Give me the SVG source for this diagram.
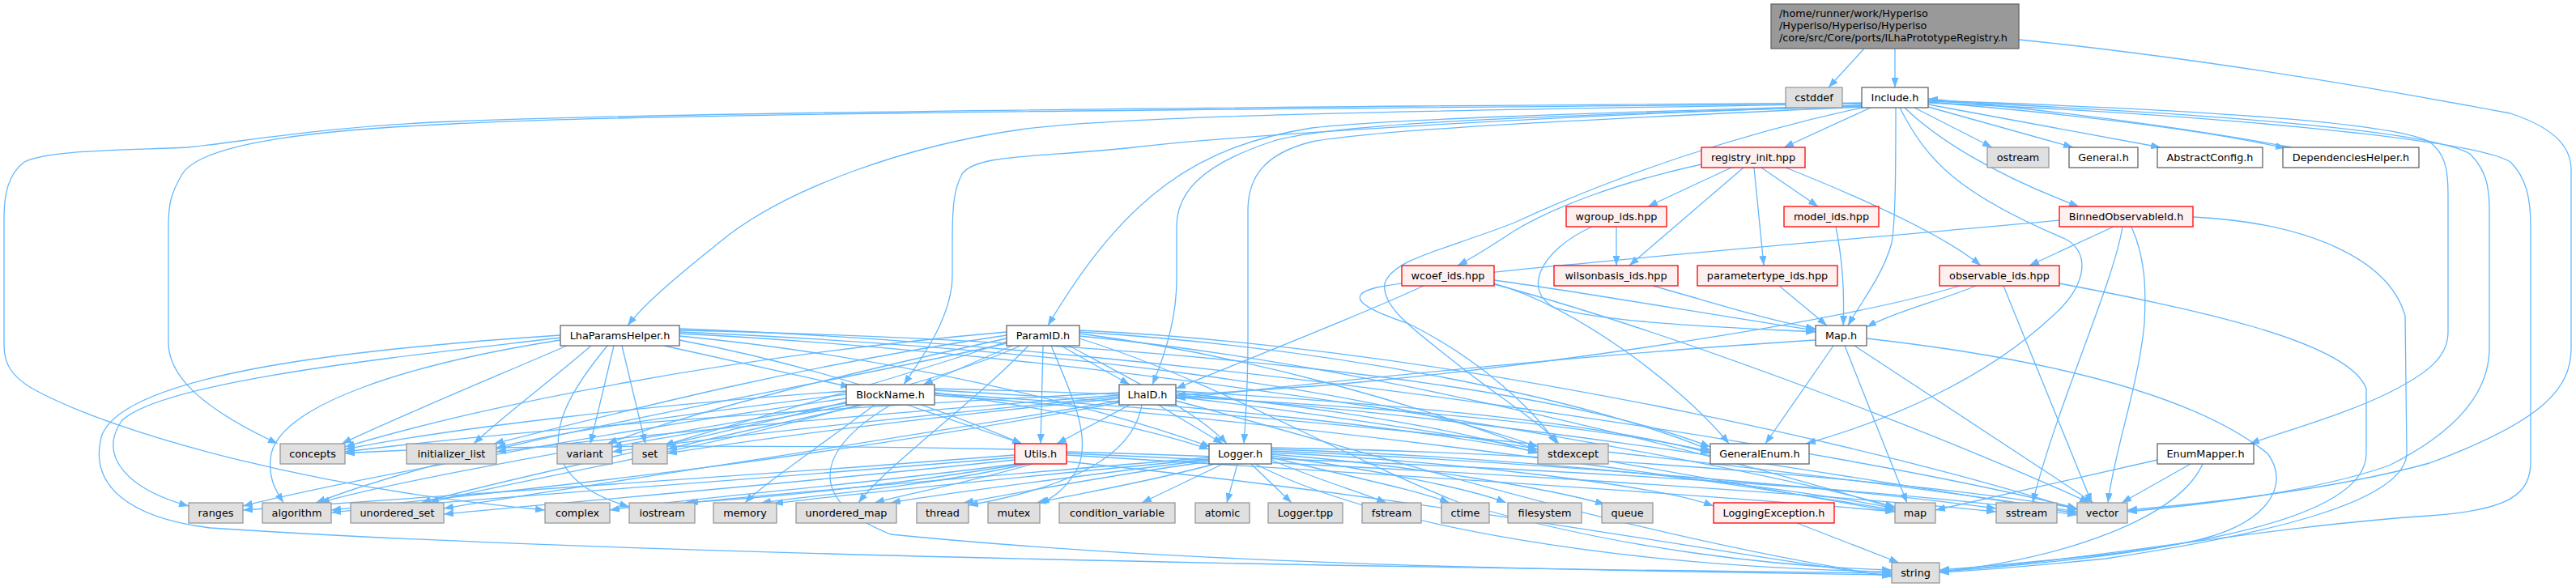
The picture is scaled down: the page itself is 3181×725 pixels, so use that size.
<svg xmlns="http://www.w3.org/2000/svg" width="3181" height="725" viewBox="0 0 3181 725">
<style>
.e{fill:none;stroke:#63b8ff;stroke-width:1.3;marker-end:url(#a)}
.n rect{fill:#fff;stroke:#666;stroke-width:1.3}
.s rect{fill:#e0e0e0;stroke:#999;stroke-width:1.3}
.r rect{fill:#fff0f0;stroke:#f00;stroke-width:1.3}
.root rect{fill:#999;stroke:#666;stroke-width:1.3}
text{font-family:"DejaVu Sans","Liberation Sans",sans-serif;font-size:12.8px;fill:#000;text-anchor:middle}
.root text{text-anchor:start}
</style>
<defs>
<marker id="a" viewBox="0 0 12 9" refX="12" refY="4.5" markerWidth="12" markerHeight="9" orient="auto" markerUnits="userSpaceOnUse"><path d="M0,0 L12,4.5 L0,9 z" fill="#63b8ff"/></marker>
</defs>
<rect width="3181" height="725" fill="#fff"/>
<g id="edges">
<path class="e" d="M2302,60 L2258,108"/>
<path class="e" d="M2340,60 L2340,108"/>
<path class="e" d="M2493,49 C2700,70 2930,108 3100,140 C3160,160 3175,185 3175,210 L3175,430 C3175,480 3140,520 3000,572 C2880,605 2720,622 2627,630"/>
<path class="e" d="M2310,133 L2203,182"/>
<path class="e" d="M2364,133 L2460,182"/>
<path class="e" d="M2381,132 L2560,182"/>
<path class="e" d="M2381,129 L2668,182"/>
<path class="e" d="M2381,126 C2550,140 2720,160 2822,183"/>
<path class="e" d="M2830,182 C2700,158 2550,138 2381,122"/>
<path class="e" d="M2352,133 C2390,170 2460,215 2567,255"/>
<path class="e" d="M2341,133 C2341,200 2341,270 2336,300 C2325,340 2300,370 2282,402"/>
<path class="e" d="M2346,133 C2380,200 2420,240 2550,295 C2580,310 2580,350 2535,390 C2450,470 2330,520 2230,548"/>
<path class="e" d="M2381,124 C2700,135 2950,150 3000,175 C3020,190 3023,210 3023,240 L3023,410 C3023,440 3000,460 2950,485 C2900,510 2830,530 2778,548"/>
<path class="e" d="M2381,125 C2700,138 3000,160 3050,190 C3070,210 3074,230 3074,260 L3074,430 C3074,480 3040,530 2950,575 C2850,610 2700,625 2627,632"/>
<path class="e" d="M2381,127 C2700,140 3050,170 3100,200 C3120,220 3125,245 3125,280 L3125,570 C3125,610 3100,630 3000,637 C2800,650 2600,690 2395,706"/>
<path class="e" d="M2299,128 C1900,135 1400,140 1260,160 C1120,180 980,230 900,290 C850,330 800,370 775,402"/>
<path class="e" d="M2299,130 C1950,140 1700,148 1620,158 C1480,180 1390,240 1294,402"/>
<path class="e" d="M2299,131 C1900,142 1500,170 1400,182 C1280,195 1205,190 1188,215 C1177,235 1176,260 1176,300 L1176,340 C1176,390 1140,440 1116,475"/>
<path class="e" d="M2299,131 C1900,143 1640,152 1570,175 C1480,205 1453,240 1453,280 L1453,345 C1453,395 1438,440 1423,475"/>
<path class="e" d="M2299,132 C1950,148 1700,160 1620,175 C1560,190 1541,220 1541,260 L1541,420 C1541,480 1538,520 1536,548"/>
<path class="e" d="M2299,128 C1500,135 800,140 560,153 C400,160 250,175 225,215 C210,240 208,255 208,280 L208,423 C208,460 240,500 343,548"/>
<path class="e" d="M2299,127 C1500,132 800,140 560,150 C400,156 300,175 232,182 C150,186 60,185 30,200 C10,215 5,240 5,270 L5,427 C5,450 15,465 40,480 C150,540 400,605 673,630"/>
<path class="e" d="M2299,133 C2150,165 2000,215 1870,275 C1780,310 1720,320 1710,350 C1705,380 1750,410 1800,450 C1850,490 1900,520 1925,548"/>
<path class="e" d="M2138,207 L2035,255"/>
<path class="e" d="M2175,207 L2245,255"/>
<path class="e" d="M2101,203 C2000,225 1920,255 1870,285 C1840,305 1815,320 1800,328"/>
<path class="e" d="M2153,207 L2012,328"/>
<path class="e" d="M2166,207 L2178,328"/>
<path class="e" d="M2205,207 C2300,245 2400,290 2446,328"/>
<path class="e" d="M1996,280 L1996,328"/>
<path class="e" d="M1966,280 C1900,310 1880,360 1920,380 C1990,400 2150,405 2242,410"/>
<path class="e" d="M2267,280 C2275,320 2278,360 2276,402"/>
<path class="e" d="M2197,353 L2256,402"/>
<path class="e" d="M2041,353 C2120,375 2180,395 2242,406"/>
<path class="e" d="M1845,346 C1950,360 2150,395 2242,408"/>
<path class="e" d="M1758,353 C1700,380 1600,420 1452,480"/>
<path class="e" d="M1845,350 C1950,380 2080,480 2135,548"/>
<path class="e" d="M1845,351 C2100,420 2450,560 2580,621"/>
<path class="e" d="M2440,353 C2400,370 2340,385 2305,404"/>
<path class="e" d="M2474,353 L2583,621"/>
<path class="e" d="M2543,350 C2700,380 2900,420 2922,480 L2922,560 C2922,620 2800,660 2600,685 C2500,695 2450,700 2395,704"/>
<path class="e" d="M2420,353 C2300,390 2000,440 1700,470 C1600,480 1500,485 1452,488"/>
<path class="e" d="M2610,280 L2506,328"/>
<path class="e" d="M2621,280 C2610,350 2540,500 2510,621"/>
<path class="e" d="M2632,280 C2650,320 2650,360 2648,400 C2640,480 2610,560 2603,621"/>
<path class="e" d="M2708,268 C2850,275 2950,320 2970,390 L2972,560 C2970,620 2800,660 2600,690 C2500,700 2450,704 2395,707"/>
<path class="e" d="M2543,272 C2300,295 1800,335 1700,355 C1660,365 1680,380 1740,400 C1820,440 1890,500 1922,548"/>
<path class="e" d="M2278,427 L2355,621"/>
<path class="e" d="M2290,427 L2585,621"/>
<path class="e" d="M2305,418 C2500,440 2700,480 2800,560 C2830,600 2800,650 2700,670 C2600,690 2450,702 2395,706"/>
<path class="e" d="M2264,427 L2180,548"/>
<path class="e" d="M2242,420 C2000,435 1700,465 1452,492"/>
<path class="e" d="M700,427 C600,470 480,520 422,548"/>
<path class="e" d="M730,427 C680,470 620,515 585,548"/>
<path class="e" d="M758,427 L729,548"/>
<path class="e" d="M768,427 L797,548"/>
<path class="e" d="M820,427 C900,445 980,462 1050,478"/>
<path class="e" d="M692,417 C500,440 200,470 150,520 C120,565 160,605 233,625"/>
<path class="e" d="M692,414 C450,430 150,460 125,540 C110,600 160,640 260,652 C700,682 1600,700 2336,708"/>
<path class="e" d="M750,427 C690,500 640,585 777,626"/>
<path class="e" d="M692,420 C500,450 350,500 335,560 C330,590 340,605 350,621"/>
<path class="e" d="M839,420 C1000,450 1150,500 1262,548"/>
<path class="e" d="M839,415 C1100,440 1350,500 1495,552"/>
<path class="e" d="M839,410 C1300,430 1700,480 1899,552"/>
<path class="e" d="M839,408 C1400,420 1900,470 2112,552"/>
<path class="e" d="M839,412 C1400,440 2100,560 2340,626"/>
<path class="e" d="M839,406 C1500,430 2300,560 2565,628"/>
<path class="e" d="M1250,427 L1140,475"/>
<path class="e" d="M1288,427 L1285,548"/>
<path class="e" d="M1310,427 L1395,475"/>
<path class="e" d="M1320,427 C1400,470 1480,510 1515,548"/>
<path class="e" d="M1243,410 C900,440 600,500 426,552"/>
<path class="e" d="M1243,414 C1000,450 800,500 610,548"/>
<path class="e" d="M1243,418 C1050,460 850,510 750,548"/>
<path class="e" d="M1243,422 C1100,470 920,520 820,550"/>
<path class="e" d="M1243,424 C1000,480 600,540 390,621"/>
<path class="e" d="M1260,427 C1100,500 700,570 520,621"/>
<path class="e" d="M1298,427 C1320,480 1350,540 1330,580 C1315,605 1300,615 1284,622"/>
<path class="e" d="M1333,412 C1550,440 1750,500 1899,556"/>
<path class="e" d="M1333,410 C1650,430 1950,490 2112,556"/>
<path class="e" d="M1333,415 C1700,450 2150,570 2340,628"/>
<path class="e" d="M1333,408 C1800,430 2350,560 2565,630"/>
<path class="e" d="M1333,418 C1500,470 1650,560 1800,620 C2000,680 2200,700 2336,704"/>
<path class="e" d="M1270,427 C1200,500 1100,570 1060,621"/>
<path class="e" d="M1120,500 L1262,548"/>
<path class="e" d="M1154,485 C1300,505 1420,530 1493,555"/>
<path class="e" d="M1045,483 C800,500 550,530 426,555"/>
<path class="e" d="M1045,487 C900,505 700,530 613,553"/>
<path class="e" d="M1050,500 C950,520 820,540 756,552"/>
<path class="e" d="M1065,500 C980,520 880,540 824,555"/>
<path class="e" d="M1050,497 C800,540 500,590 395,621"/>
<path class="e" d="M1060,500 C850,560 600,600 530,621"/>
<path class="e" d="M1045,492 C700,540 400,600 300,625"/>
<path class="e" d="M1154,482 C1500,500 1750,530 1899,558"/>
<path class="e" d="M1154,480 C1600,490 1950,520 2112,558"/>
<path class="e" d="M1154,488 C1600,520 2100,590 2340,630"/>
<path class="e" d="M1100,500 C1000,560 1000,620 1100,660 C1500,700 2000,705 2336,710"/>
<path class="e" d="M1154,486 C1700,520 2300,590 2565,632"/>
<path class="e" d="M1080,500 C1000,560 940,600 920,621"/>
<path class="e" d="M1395,500 L1305,548"/>
<path class="e" d="M1430,500 L1510,548"/>
<path class="e" d="M1382,485 C1000,505 650,530 426,558"/>
<path class="e" d="M1382,488 C1100,510 800,535 613,558"/>
<path class="e" d="M1382,492 C1150,515 950,540 824,560"/>
<path class="e" d="M1382,490 C1150,512 900,538 756,558"/>
<path class="e" d="M1410,500 C1400,560 1330,600 1196,624"/>
<path class="e" d="M1452,485 C1650,505 1800,530 1899,560"/>
<path class="e" d="M1452,483 C1750,500 1990,525 2112,560"/>
<path class="e" d="M1452,490 C1800,530 2150,600 2340,632"/>
<path class="e" d="M1452,495 C1700,560 2000,660 2336,712"/>
<path class="e" d="M1452,488 C1900,520 2350,600 2565,634"/>
<path class="e" d="M1382,495 C1000,560 650,610 548,628"/>
<path class="e" d="M1382,497 C1000,570 600,610 409,630"/>
<path class="e" d="M1253,562 C900,590 500,615 300,630"/>
<path class="e" d="M1253,565 C900,595 550,618 409,633"/>
<path class="e" d="M1253,568 C950,600 700,620 548,635"/>
<path class="e" d="M1255,573 C1050,600 850,615 753,630"/>
<path class="e" d="M1262,573 C1100,600 950,615 845,621"/>
<path class="e" d="M1268,573 C1150,600 1000,612 940,621"/>
<path class="e" d="M1275,573 C1200,595 1120,610 1080,621"/>
<path class="e" d="M1317,562 C1700,585 2100,610 2340,632"/>
<path class="e" d="M1317,560 C1800,580 2250,610 2465,632"/>
<path class="e" d="M1317,558 C1900,575 2350,605 2565,636"/>
<path class="e" d="M1317,570 C1800,620 2100,680 2336,712"/>
<path class="e" d="M1253,555 C1000,550 600,548 426,560"/>
<path class="e" d="M1510,573 L1410,621"/>
<path class="e" d="M1528,573 L1515,621"/>
<path class="e" d="M1545,573 L1595,621"/>
<path class="e" d="M1570,568 C1620,590 1680,608 1712,621"/>
<path class="e" d="M1570,565 C1650,585 1750,605 1790,621"/>
<path class="e" d="M1570,563 C1700,580 1820,605 1860,621"/>
<path class="e" d="M1570,561 C1750,575 1920,605 1982,623"/>
<path class="e" d="M1570,559 C1800,570 2050,600 2116,625"/>
<path class="e" d="M1493,565 C1200,590 950,610 850,621"/>
<path class="e" d="M1493,567 C1250,590 1050,610 955,622"/>
<path class="e" d="M1493,570 C1350,590 1250,610 1190,621"/>
<path class="e" d="M1500,573 C1420,595 1330,610 1280,621"/>
<path class="e" d="M1493,568 C1300,592 1150,612 1100,621"/>
<path class="e" d="M1550,573 C1700,650 2000,700 2336,706"/>
<path class="e" d="M1570,557 C1900,570 2300,605 2465,628"/>
<path class="e" d="M1570,555 C1900,565 2200,600 2340,628"/>
<path class="e" d="M1570,553 C2000,560 2400,600 2565,628"/>
<path class="e" d="M2219,646 L2345,695"/>
<path class="e" d="M2664,568 L2390,630"/>
<path class="e" d="M2705,573 L2620,621"/>
<path class="e" d="M2720,573 C2690,640 2550,690 2395,706"/>
</g>
<g id="node-root" class="root"><rect x="2187" y="5" width="306" height="55"/><text x="2197" y="21">/home/runner/work/Hyperiso</text><text x="2197" y="36">/Hyperiso/Hyperiso/Hyperiso</text><text x="2197" y="51">/core/src/Core/ports/ILhaPrototypeRegistry.h</text></g>
<g id="node-cstddef" class="s"><rect x="2205" y="108" width="70" height="25"/><text x="2240" y="125">cstddef</text></g>
<g id="node-include" class="n"><rect x="2299" y="108" width="82" height="25"/><text x="2340" y="125">Include.h</text></g>
<g id="node-registry" class="r"><rect x="2101" y="182" width="128" height="25"/><text x="2165" y="199">registry_init.hpp</text></g>
<g id="node-ostream" class="s"><rect x="2454" y="182" width="76" height="25"/><text x="2492" y="199">ostream</text></g>
<g id="node-general" class="n"><rect x="2555" y="182" width="85" height="25"/><text x="2597.5" y="199">General.h</text></g>
<g id="node-abstract" class="n"><rect x="2664" y="182" width="130" height="25"/><text x="2729" y="199">AbstractConfig.h</text></g>
<g id="node-deps" class="n"><rect x="2819" y="182" width="168" height="25"/><text x="2903" y="199">DependenciesHelper.h</text></g>
<g id="node-wgroup" class="r"><rect x="1934" y="255" width="124" height="25"/><text x="1996" y="272">wgroup_ids.hpp</text></g>
<g id="node-model" class="r"><rect x="2203" y="255" width="117" height="25"/><text x="2261.5" y="272">model_ids.hpp</text></g>
<g id="node-binned" class="r"><rect x="2543" y="255" width="165" height="25"/><text x="2625.5" y="272">BinnedObservableId.h</text></g>
<g id="node-wcoef" class="r"><rect x="1731" y="328" width="114" height="25"/><text x="1788" y="345">wcoef_ids.hpp</text></g>
<g id="node-wilson" class="r"><rect x="1919" y="328" width="153" height="25"/><text x="1995.5" y="345">wilsonbasis_ids.hpp</text></g>
<g id="node-paramtype" class="r"><rect x="2096" y="328" width="173" height="25"/><text x="2182.5" y="345">parametertype_ids.hpp</text></g>
<g id="node-observable" class="r"><rect x="2395" y="328" width="148" height="25"/><text x="2469" y="345">observable_ids.hpp</text></g>
<g id="node-lhaparams" class="n"><rect x="692" y="402" width="147" height="25"/><text x="765.5" y="419">LhaParamsHelper.h</text></g>
<g id="node-paramid" class="n"><rect x="1243" y="402" width="90" height="25"/><text x="1288" y="419">ParamID.h</text></g>
<g id="node-maph" class="n"><rect x="2242" y="402" width="63" height="25"/><text x="2273.5" y="419">Map.h</text></g>
<g id="node-blockname" class="n"><rect x="1045" y="475" width="109" height="25"/><text x="1099.5" y="492">BlockName.h</text></g>
<g id="node-lhaid" class="n"><rect x="1382" y="475" width="70" height="25"/><text x="1417" y="492">LhaID.h</text></g>
<g id="node-concepts" class="s"><rect x="346" y="548" width="80" height="25"/><text x="386" y="565">concepts</text></g>
<g id="node-initlist" class="s"><rect x="502" y="548" width="111" height="25"/><text x="557.5" y="565">initializer_list</text></g>
<g id="node-variant" class="s"><rect x="688" y="548" width="68" height="25"/><text x="722" y="565">variant</text></g>
<g id="node-set" class="s"><rect x="781" y="548" width="43" height="25"/><text x="802.5" y="565">set</text></g>
<g id="node-utils" class="r"><rect x="1253" y="548" width="64" height="25"/><text x="1285" y="565">Utils.h</text></g>
<g id="node-logger" class="n"><rect x="1493" y="548" width="77" height="25"/><text x="1531.5" y="565">Logger.h</text></g>
<g id="node-stdexcept" class="s"><rect x="1899" y="548" width="87" height="25"/><text x="1942.5" y="565">stdexcept</text></g>
<g id="node-genenum" class="n"><rect x="2112" y="548" width="122" height="25"/><text x="2173" y="565">GeneralEnum.h</text></g>
<g id="node-enummapper" class="n"><rect x="2664" y="548" width="119" height="25"/><text x="2723.5" y="565">EnumMapper.h</text></g>
<g id="node-ranges" class="s"><rect x="233" y="621" width="67" height="25"/><text x="266.5" y="638">ranges</text></g>
<g id="node-algorithm" class="s"><rect x="324" y="621" width="85" height="25"/><text x="366.5" y="638">algorithm</text></g>
<g id="node-uset" class="s"><rect x="433" y="621" width="115" height="25"/><text x="490.5" y="638">unordered_set</text></g>
<g id="node-complex" class="s"><rect x="673" y="621" width="80" height="25"/><text x="713" y="638">complex</text></g>
<g id="node-iostream" class="s"><rect x="777" y="621" width="81" height="25"/><text x="817.5" y="638">iostream</text></g>
<g id="node-memory" class="s"><rect x="881" y="621" width="78" height="25"/><text x="920" y="638">memory</text></g>
<g id="node-umap" class="s"><rect x="983" y="621" width="124" height="25"/><text x="1045" y="638">unordered_map</text></g>
<g id="node-thread" class="s"><rect x="1132" y="621" width="64" height="25"/><text x="1164" y="638">thread</text></g>
<g id="node-mutex" class="s"><rect x="1220" y="621" width="64" height="25"/><text x="1252" y="638">mutex</text></g>
<g id="node-condvar" class="s"><rect x="1308" y="621" width="143" height="25"/><text x="1379.5" y="638">condition_variable</text></g>
<g id="node-atomic" class="s"><rect x="1476" y="621" width="67" height="25"/><text x="1509.5" y="638">atomic</text></g>
<g id="node-loggertpp" class="s"><rect x="1566" y="621" width="92" height="25"/><text x="1612" y="638">Logger.tpp</text></g>
<g id="node-fstream" class="s"><rect x="1682" y="621" width="73" height="25"/><text x="1718.5" y="638">fstream</text></g>
<g id="node-ctime" class="s"><rect x="1780" y="621" width="59" height="25"/><text x="1809.5" y="638">ctime</text></g>
<g id="node-filesystem" class="s"><rect x="1862" y="621" width="91" height="25"/><text x="1907.5" y="638">filesystem</text></g>
<g id="node-queue" class="s"><rect x="1978" y="621" width="63" height="25"/><text x="2009.5" y="638">queue</text></g>
<g id="node-logexc" class="r"><rect x="2116" y="621" width="149" height="25"/><text x="2190.5" y="638">LoggingException.h</text></g>
<g id="node-map" class="s"><rect x="2340" y="621" width="50" height="25"/><text x="2365" y="638">map</text></g>
<g id="node-sstream" class="s"><rect x="2465" y="621" width="75" height="25"/><text x="2502.5" y="638">sstream</text></g>
<g id="node-vector" class="s"><rect x="2565" y="621" width="62" height="25"/><text x="2596" y="638">vector</text></g>
<g id="node-string" class="s"><rect x="2336" y="695" width="59" height="25"/><text x="2365.5" y="712">string</text></g>
</svg>
